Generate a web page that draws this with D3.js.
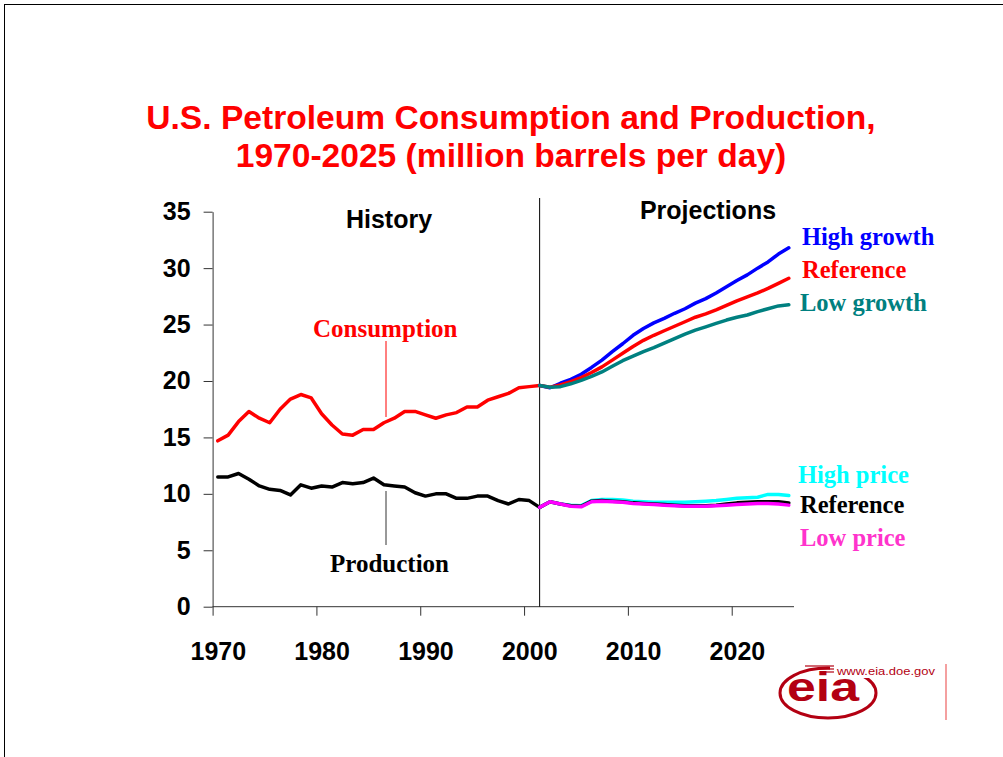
<!DOCTYPE html>
<html>
<head>
<meta charset="utf-8">
<script src="https://cdn.jsdelivr.net/npm/d3@7"></script>
<style>
  html, body { margin: 0; padding: 0; background: #fff; }
  svg { display: block; }
  .sans { font-family: "Liberation Sans", Arial, sans-serif; font-weight: bold; }
  .serif { font-family: "Liberation Serif", "Times New Roman", serif; font-weight: bold; }
</style>
</head>
<body>
<svg id="chart" width="1003" height="757"></svg>
<script>
// ---------- data ----------
const historyYears = d3.range(1970, 2002);           // 1970..2001
const consumptionHistory = [14.7, 15.2, 16.4, 17.3, 16.7, 16.3, 17.5, 18.4, 18.8, 18.5,
  17.1, 16.1, 15.3, 15.2, 15.7, 15.7, 16.3, 16.7, 17.3, 17.3,
  17.0, 16.7, 17.0, 17.2, 17.7, 17.7, 18.3, 18.6, 18.9, 19.4, 19.5, 19.6];
const productionHistory = [11.5, 11.5, 11.8, 11.3, 10.7, 10.4, 10.3, 9.9, 10.8, 10.5,
  10.7, 10.6, 11.0, 10.9, 11.0, 11.4, 10.8, 10.7, 10.6, 10.1,
  9.8, 10.0, 10.0, 9.6, 9.6, 9.8, 9.8, 9.4, 9.1, 9.5, 9.4, 8.8];

const projectionYears = d3.range(2001, 2026);         // 2001..2025
const consumptionHigh = [19.6, 19.4, 19.8, 20.15, 20.6, 21.2, 21.85, 22.6, 23.3, 24.05,
  24.65, 25.15, 25.55, 26.0, 26.4, 26.9, 27.3, 27.8, 28.35, 28.9,
  29.4, 30.0, 30.55, 31.25, 31.8];
const consumptionRef = [19.6, 19.45, 19.65, 19.95, 20.3, 20.75, 21.25, 21.85, 22.45, 23.05,
  23.6, 24.05, 24.45, 24.85, 25.25, 25.65, 25.95, 26.3, 26.7, 27.1,
  27.45, 27.8, 28.2, 28.65, 29.1];
const consumptionLow = [19.6, 19.45, 19.5, 19.75, 20.05, 20.4, 20.8, 21.3, 21.8, 22.2,
  22.6, 22.95, 23.35, 23.75, 24.15, 24.5, 24.8, 25.1, 25.4, 25.65,
  25.85, 26.15, 26.4, 26.65, 26.75];
const productionHighPrice = [8.8, 9.3, 9.1, 9.0, 8.95, 9.4, 9.5, 9.5, 9.45, 9.35,
  9.3, 9.25, 9.25, 9.25, 9.25, 9.3, 9.35, 9.4, 9.5, 9.6,
  9.65, 9.7, 9.95, 9.95, 9.85];
const productionRef = [8.8, 9.3, 9.1, 8.95, 8.9, 9.35, 9.4, 9.35, 9.3, 9.2,
  9.15, 9.1, 9.05, 9.0, 8.95, 8.95, 8.95, 9.0, 9.1, 9.2,
  9.25, 9.3, 9.3, 9.3, 9.2];
const productionLowPrice = [8.8, 9.3, 9.1, 8.9, 8.85, 9.3, 9.35, 9.3, 9.25, 9.15,
  9.1, 9.05, 9.0, 8.95, 8.9, 8.9, 8.9, 8.95, 9.0, 9.05,
  9.1, 9.15, 9.15, 9.1, 9.0];

const xTickYears = [1970, 1980, 1990, 2000, 2010, 2020];
const yTicks = [0, 5, 10, 15, 20, 25, 30, 35];

const titleLines = ["U.S. Petroleum Consumption and Production,", "1970-2025 (million barrels per day)"];

// ---------- drawing ----------
const svg = d3.select("#chart");

// slide frame
svg.append("line").attr("x1", 4).attr("x2", 1003).attr("y1", 4.5).attr("y2", 4.5)
  .attr("stroke", "#000").attr("stroke-width", 1);
svg.append("line").attr("x1", 4.5).attr("x2", 4.5).attr("y1", 4).attr("y2", 757)
  .attr("stroke", "#000").attr("stroke-width", 1);

// title
svg.append("text").attr("class", "sans").attr("fill", "#ff0000")
  .attr("font-size", 33.6).attr("text-anchor", "middle")
  .selectAll("tspan").data(titleLines).join("tspan")
  .attr("x", 511).attr("y", (d, i) => 129 + i * 38).text(d => d);

// scales: categories are years, each occupying one band; x(year) is left edge of band
const x = d3.scaleLinear().domain([1970, 2026]).range([212.6, 794]);
const y = d3.scaleLinear().domain([0, 35]).range([606.7, 211.7]);
const half = (x(1971) - x(1970)) / 2;

// axes
const yAxis = svg.append("g").attr("transform", `translate(${x(1970)},0)`)
  .call(d3.axisLeft(y).tickValues(yTicks).tickSize(9).tickSizeOuter(0).tickPadding(13));
const xAxis = svg.append("g").attr("transform", `translate(0,${y(0)})`)
  .call(d3.axisBottom(x).tickValues(xTickYears).tickFormat(d3.format("d"))
    .tickSize(9).tickSizeOuter(0).tickPadding(27));
[yAxis, xAxis].forEach(g => {
  g.selectAll("path, line").attr("stroke", "#333").attr("stroke-width", 1);
  g.selectAll("text").attr("class", "sans").attr("font-size", 25).attr("fill", "#000");
});
xAxis.selectAll("text").attr("x", half);
// make x-axis line extend over the whole category range
xAxis.select("path.domain").attr("d", `M${x(1970)},0H${x(2026)}`);

// divider between history and projections
svg.append("line").attr("x1", x(2001) + half).attr("x2", x(2001) + half)
  .attr("y1", 198).attr("y2", y(0)).attr("stroke", "#000").attr("stroke-width", 1);

// section headings
svg.append("text").attr("class", "sans").attr("font-size", 25).attr("text-anchor", "middle")
  .attr("x", 389).attr("y", 228).text("History");
svg.append("text").attr("class", "sans").attr("font-size", 25).attr("text-anchor", "middle")
  .attr("x", 708).attr("y", 219).text("Projections");

// lines
const line = d3.line().x(d => x(d[0]) + half).y(d => y(d[1]));
function drawSeries(years, values, color, width) {
  svg.append("path").datum(years.map((yr, i) => [yr, values[i]]))
    .attr("d", line).attr("fill", "none").attr("stroke", color)
    .attr("stroke-width", width).attr("stroke-linejoin", "round").attr("stroke-linecap", "round");
}
drawSeries(historyYears, consumptionHistory, "#ff0000", 3.5);
drawSeries(historyYears, productionHistory, "#000000", 3.5);
drawSeries(projectionYears, consumptionHigh, "#0000ff", 3.5);
drawSeries(projectionYears, consumptionRef, "#ff0000", 3.5);
drawSeries(projectionYears, consumptionLow, "#008080", 3.5);
drawSeries(projectionYears, productionHighPrice, "#00ffff", 3.5);
drawSeries(projectionYears, productionRef, "#000000", 3.5);
drawSeries(projectionYears, productionLowPrice, "#ff00ff", 3.5);

// series annotations
svg.append("text").attr("class", "serif").attr("font-size", 25).attr("fill", "#ff0000")
  .attr("x", 313).attr("y", 337).text("Consumption");
svg.append("line").attr("x1", 386).attr("x2", 386).attr("y1", 341).attr("y2", 417)
  .attr("stroke", "#ff0000").attr("stroke-width", 1);
svg.append("text").attr("class", "serif").attr("font-size", 25).attr("fill", "#000")
  .attr("x", 330).attr("y", 572).text("Production");
svg.append("line").attr("x1", 386).attr("x2", 386).attr("y1", 491).attr("y2", 545)
  .attr("stroke", "#333").attr("stroke-width", 1);

const caseLabels = [
  ["High growth", "#0000ff", 802, 245],
  ["Reference", "#ff0000", 802, 278],
  ["Low growth", "#008080", 800, 311],
  ["High price", "#00ffff", 798, 483],
  ["Reference", "#000000", 800, 513],
  ["Low price", "#ff33cc", 800, 546]
];
svg.selectAll("text.case").data(caseLabels).join("text")
  .attr("class", "serif case").attr("font-size", 24.5)
  .attr("fill", d => d[1]).attr("x", d => d[2]).attr("y", d => d[3]).text(d => d[0]);

// EIA logo (approximation)
const logo = svg.append("g");
const red = "#b30012";
logo.append("ellipse").attr("cx", 828).attr("cy", 693).attr("rx", 48).attr("ry", 25)
  .attr("fill", "none").attr("stroke", red).attr("stroke-width", 3);
logo.append("rect").attr("x", 830).attr("y", 664).attr("width", 115).attr("height", 14).attr("fill", "#fff");
logo.append("text").attr("x", 787).attr("y", 701).attr("font-family", "Liberation Sans, Arial, sans-serif")
  .attr("font-weight", "bold").attr("font-size", 40).attr("fill", red)
  .attr("textLength", 72).attr("lengthAdjust", "spacingAndGlyphs").text("eia");
logo.append("text").attr("x", 837).attr("y", 675).attr("font-family", "Liberation Sans, Arial, sans-serif")
  .attr("font-size", 10).attr("fill", red).attr("textLength", 98)
  .attr("lengthAdjust", "spacingAndGlyphs").text("www.eia.doe.gov");
[0, 3, 6].forEach(k => logo.append("line").attr("x1", 805 + k * 3).attr("x2", 834)
  .attr("y1", 666 + k).attr("y2", 666 + k).attr("stroke", red).attr("stroke-width", 1.2));
logo.append("line").attr("x1", 946).attr("x2", 946).attr("y1", 664).attr("y2", 720)
  .attr("stroke", "#f08080").attr("stroke-width", 1.5);
</script>
</body>
</html>
